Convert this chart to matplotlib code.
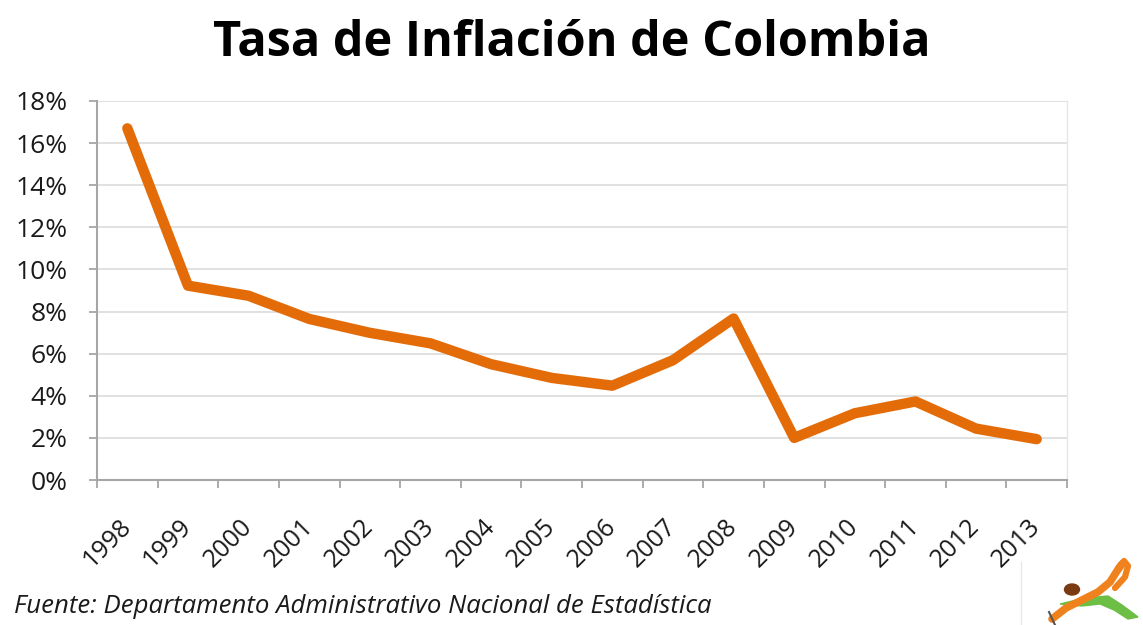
import matplotlib
matplotlib.use("Agg")
import matplotlib.pyplot as plt
from matplotlib.patches import Ellipse, Polygon
from matplotlib.ticker import FixedLocator, FuncFormatter

years = ["1998", "1999", "2000", "2001", "2002", "2003", "2004", "2005",
         "2006", "2007", "2008", "2009", "2010", "2011", "2012", "2013"]
inflation = [16.70, 9.23, 8.75, 7.65, 6.99, 6.49, 5.50, 4.85,
             4.48, 5.69, 7.67, 2.00, 3.17, 3.73, 2.44, 1.94]
y_ticks = [0, 2, 4, 6, 8, 10, 12, 14, 16, 18]

title = "Tasa de Inflación de Colombia"
source = "Fuente: Departamento Administrativo Nacional de Estadística"

plt.rcParams["font.family"] = ["Open Sans", "DejaVu Sans"]

fig = plt.figure(figsize=(11.43, 6.25), dpi=100)
ax = fig.add_axes([0.0849, 0.232, 0.8486, 0.6064])

x = list(range(len(years)))
ax.plot(x, inflation, color="#E36C09", linewidth=7.5,
        solid_joinstyle="round", solid_capstyle="round", zorder=3)

ax.set_xlim(-0.5, len(years) - 0.5)
ax.set_ylim(0, 18)

ax.yaxis.set_major_locator(FixedLocator(y_ticks))
ax.yaxis.set_major_formatter(FuncFormatter(lambda v, p: f"{v:.0f}%"))
ax.grid(axis="y", color="#DEDEDE", linewidth=1.3, zorder=0)

# category labels sit between boundary tick marks
ax.xaxis.set_major_locator(FixedLocator([i - 0.5 for i in range(len(years) + 1)]))
ax.xaxis.set_major_formatter(FuncFormatter(lambda v, p: ""))
ax.xaxis.set_minor_locator(FixedLocator(x))
ax.set_xticklabels(years, minor=True)
ax.tick_params(axis="x", which="minor", length=0, pad=31)
for lbl in ax.get_xticklabels(minor=True):
    lbl.set_rotation(45)
    lbl.set_rotation_mode("anchor")
    lbl.set_ha("right")
    lbl.set_va("center")
    lbl.set_fontsize(18)
    lbl.set_color("#1a1a1a")

ax.tick_params(axis="x", which="major", length=6, width=1.3, color="#A6A6A6",
               direction="out")
ax.tick_params(axis="y", which="major", length=6, width=1.3, color="#A6A6A6",
               direction="out", labelsize=19, labelcolor="#1a1a1a", pad=15)

for side in ["left", "bottom"]:
    ax.spines[side].set_color("#A6A6A6")
    ax.spines[side].set_linewidth(1.5)
ax.spines["top"].set_visible(False)
ax.spines["right"].set_color("#E6E6E6")
ax.spines["right"].set_linewidth(1.0)

fig.text(0.5, 0.93, title, ha="center", va="center", fontsize=35,
         fontweight="bold", color="black")
fig.text(0.012, 0.03, source, ha="left", va="center", fontsize=18.5,
         fontstyle="italic", color="#1a1a1a")

# small logo in the lower right corner (pixel-space decoration)
lg = fig.add_axes([1020 / 1143, 0.0, 123 / 1143, 72 / 625])
lg.set_xlim(1020, 1143)
lg.set_ylim(625, 553)
lg.axis("off")
lg.plot([1020.5, 1020.5], [562, 625], color="#E8E8E8", linewidth=1.0)
lg.add_patch(Polygon([[1060, 604], [1085, 598], [1108, 596], [1122, 605],
                      [1138, 617], [1128, 619], [1114, 610], [1100, 604],
                      [1082, 606]], closed=True, color="#6CBE45", zorder=2))
lg.plot([1052, 1066, 1082, 1098, 1110, 1117, 1122],
        [619, 608, 600, 592, 582, 571, 564],
        color="#F0821E", linewidth=5.5, solid_capstyle="round", zorder=3)
lg.plot([1118, 1124, 1128, 1125, 1115],
        [568, 561, 566, 577, 588],
        color="#F0821E", linewidth=4.5, solid_capstyle="round", zorder=3)
lg.plot([1049, 1055], [612, 625], color="#555555", linewidth=1.5, zorder=4)
lg.add_patch(Ellipse((1072, 589.5), 15, 11, color="#7A3A12", zorder=4))

fig.savefig("out.png", dpi=100, facecolor="white")
